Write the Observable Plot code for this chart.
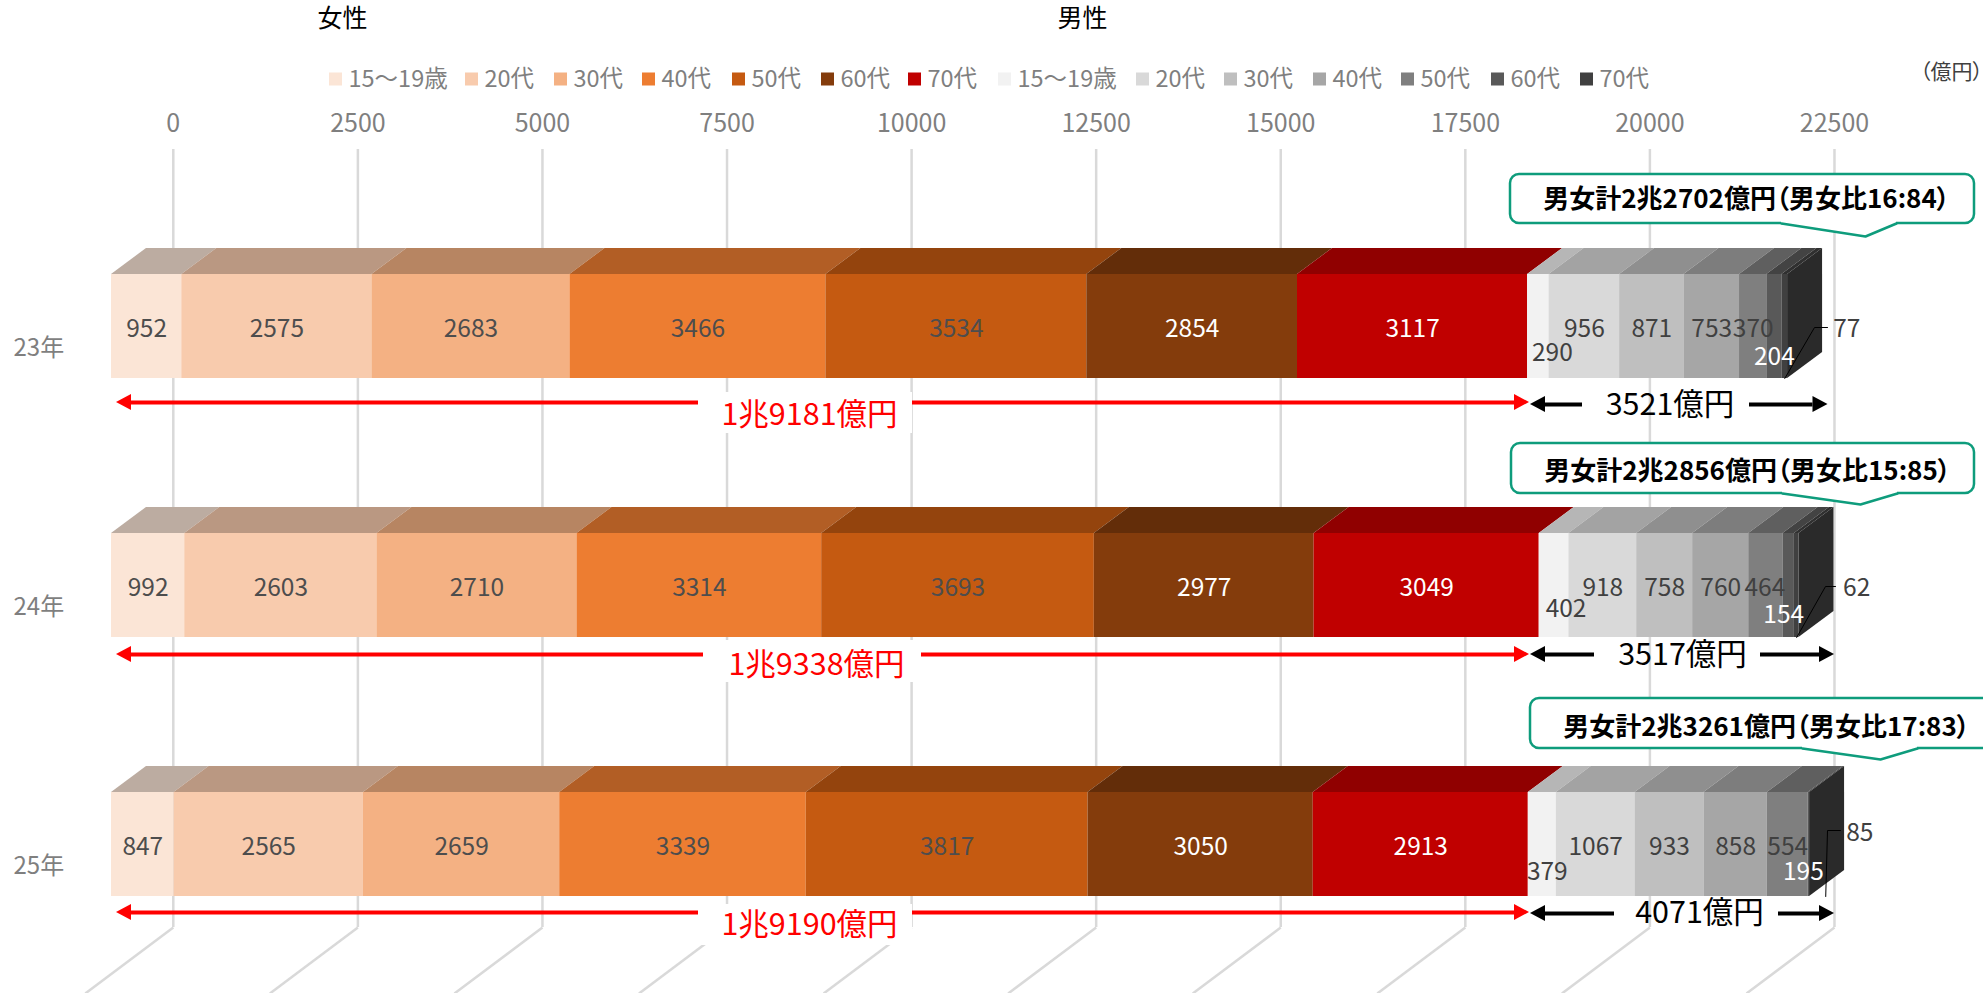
<!DOCTYPE html>
<html lang="ja">
<head>
<meta charset="utf-8">
<script src="https://cdn.jsdelivr.net/npm/d3@7"></script>
<script src="https://cdn.jsdelivr.net/npm/@observablehq/plot@0.6"></script>
<style>
html,body{margin:0;padding:0;background:#fff;}
svg{display:block;}
.palt, .palt text{font-feature-settings:"palt";}
</style>
</head>
<body>
<div id="chart"></div>
<script>
// ---------- data ----------
const years = ["23年", "24年", "25年"];
const ages = ["15〜19歳", "20代", "30代", "40代", "50代", "60代", "70代"];
const female23 = [952, 2575, 2683, 3466, 3534, 2854, 3117];
const female24 = [992, 2603, 2710, 3314, 3693, 2977, 3049];
const female25 = [847, 2565, 2659, 3339, 3817, 3050, 2913];
const male23 = [290, 956, 871, 753, 370, 204, 77];
const male24 = [402, 918, 758, 760, 464, 154, 62];
const male25 = [379, 1067, 933, 858, 554, 195, 85];
const femaleTotals = ["1兆9181億円", "1兆9338億円", "1兆9190億円"];
const maleTotals = ["3521億円", "3517億円", "4071億円"];
const calloutTexts = ["男女計2兆2702億円（男女比16:84）", "男女計2兆2856億円（男女比15:85）", "男女計2兆3261億円（男女比17:83）"];
const xTicks = [0, 2500, 5000, 7500, 10000, 12500, 15000, 17500, 20000, 22500];
const xMaxFront = 23000;

// ---------- styles ----------
const femaleColors = ["#FBE5D6", "#F8CBAD", "#F4B183", "#ED7D31", "#C55A11", "#843C0C", "#C00000"];
const maleColors = ["#F2F2F2", "#D9D9D9", "#BFBFBF", "#A6A6A6", "#7F7F7F", "#595959", "#404040"];
const sideColor = "#2A2A2A";
const teal = "#0E9C7C";
const grey = "#7F7F7F";
const font = '"Noto Sans CJK JP","Noto Sans",sans-serif';
const darken = c => { const r = d3.rgb(c); return d3.rgb(r.r * .75, r.g * .75, r.b * .75).formatHex(); };

// ---------- layout: helpers turn page pixels into scale units ----------
const W = 1983, H = 993, TOP = 149;
const K = 0.07383, X0 = 172.8;    // px per yen unit, pixel of value 0 on the back wall
const ROW0 = 326, ROWH = 259;     // pixel of first bar's centre, px per bar row
const X = px => (px - X0) / K;
const Y = px => (px - ROW0) / ROWH;
const DX = px => px / K;
const DY = px => px / ROWH;
const frontOffset = DX(111 - X0);
const depthX = DX(35), depthY = DY(26), halfBar = DY(52);
const front = v => v + frontOffset;

const femaleRows = [female23, female24, female25];
const maleRows = [male23, male24, male25];

// segment table
const segs = [];
years.forEach((year, i) => {
  let cum = 0;
  const push = (arr, colors, sex) => arr.forEach((v, a) => {
    segs.push({year, row: i, age: a, sex, value: v, a: cum, b: cum + v,
      ca: Math.min(cum, xMaxFront), cb: Math.min(cum + v, xMaxFront), color: colors[a]});
    cum += v;
  });
  push(femaleRows[i], femaleColors, "f");
  push(maleRows[i], maleColors, "m");
});
const visible = segs.filter(d => d.cb > d.ca);

// top faces as parallelograms
const topFaces = visible.flatMap((d, id) => [
  {id, x1: front(d.ca), x2: front(d.cb), y: d.row - halfBar, fill: darken(d.color)},
  {id, x1: front(d.ca) + depthX, x2: front(d.cb) + depthX, y: d.row - halfBar - depthY, fill: darken(d.color)}
]);
// right face
const barEnds = years.map((_, i) => d3.max(visible.filter(d => d.row === i), d => d.cb));
const sideFaces = barEnds.flatMap((e, i) => [
  {row: i, x: front(e), y1: i + halfBar, y2: i - halfBar},
  {row: i, x: front(e) + depthX, y1: i + halfBar - depthY, y2: i - halfBar - depthY}
]);

// data label offsets (px), male rows only
const maleDx = [[14,0,0,0,0,0,62],[12,0,0,0,-1,-5,60],[5,0,0,0,0,-12,34]];
const maleDy = [[24,0,0,0,0,28,0],[21,0,0,0,0,27,0],[25,0,0,0,0,25,-14]];
const labels = segs.map(d => {
  const m = d.sex === "m";
  return {
    text: String(d.value),
    x: front((d.a + d.b) / 2) + (m ? DX(maleDx[d.row][d.age]) : 0),
    y: d.row + DY(2.5) + (m ? DY(maleDy[d.row][d.age]) : 0),
    fill: (d.sex === "f" && d.age >= 5) || (m && d.age === 5) ? "#FFFFFF" : (m ? "#404040" : "#4D4D4D")
  };
});

// leader lines for the smallest male segment
const leaderElbowX = [1814, 1825, 1827], leaderEndX = [1827, 1835, 1840], leaderY = [327, 586, 830];
const leaders = years.flatMap((_, i) => {
  const d = segs.find(s => s.row === i && s.sex === "m" && s.age === 6);
  return [
    {row: i, x: front((d.a + d.b) / 2), y: i + halfBar},
    {row: i, x: X(leaderElbowX[i]), y: Y(leaderY[i])},
    {row: i, x: X(leaderEndX[i]), y: Y(leaderY[i])}
  ];
});

// arrows
const redY = [402, 654, 912], blackY = [404, 654, 913];
const redLeftTip = 116, redRightTip = 1529, blackLeftTip = 1530;
const blackLeftEnd = [1582, 1594, 1614], blackRightStart = [1749, 1760, 1778], blackRightTip = [1827.5, 1834, 1834];
const redGapX1 = [698, 703, 698], redGapX2 = [912, 921, 912], redGapY1 = [392, 640, 904], redGapY2 = [433, 682, 945];
const redTextX = [809, 816, 809], redTextY = [415, 665, 925];
const blackTextX = [1669.5, 1682, 1699], blackTextY = [405, 655, 913];
const idx = [0, 1, 2];
const HEAD = 15, HALF = 8;
const head = (id, tip, dir, py, color) => [
  {id, x: X(tip), y1: Y(py), y2: Y(py), color},
  {id, x: X(tip + dir * HEAD), y1: Y(py - HALF), y2: Y(py + HALF), color}
];
const heads = idx.flatMap(i => [
  ...head("rl" + i, redLeftTip, 1, redY[i], "#FF0000"),
  ...head("rr" + i, redRightTip, -1, redY[i], "#FF0000"),
  ...head("bl" + i, blackLeftTip, 1, blackY[i], "#000000"),
  ...head("br" + i, blackRightTip[i], -1, blackY[i], "#000000")
]);

// callouts
const boxX1 = [1510, 1511, 1530], boxX2 = [1974, 1974, 2010], boxY1 = [174, 443, 698], boxY2 = [223, 493, 748];
const tailX1 = [1781, 1782, 1802], tailX2 = [1865, 1860, 1880], tailX3 = [1896, 1897, 1917], tailY = [236, 504, 759];
const calloutTextX = [1746, 1747, 1766], calloutTextY = [199, 471, 727];
const tailLines = idx.flatMap(i => [
  {i, x: X(tailX1[i]), y: Y(boxY2[i])},
  {i, x: X(tailX2[i]), y: Y(tailY[i])},
  {i, x: X(tailX3[i]), y: Y(boxY2[i])}
]);

// legend
const legendTextX = [348, 484, 573, 661, 751, 840, 927, 1017, 1155, 1243, 1332, 1420, 1510, 1599];
const legendY = 79;
const legend = [...ages, ...ages].map((t, i) => ({
  text: t, px: legendTextX[i], color: (i < 7 ? femaleColors : maleColors)[i % 7]
}));
const sexTitles = [{t: "女性", px: 342}, {t: "男性", px: 1082}];

const plot = Plot.plot({
  width: W, height: H,
  marginLeft: 0, marginRight: 0, marginBottom: 0, marginTop: TOP,
  x: {domain: [X(0), X(W)], axis: null},
  y: {domain: [Y(H), Y(TOP)], axis: null},
  style: {fontFamily: font, background: "#fff", overflow: "hidden"},
  marks: [
    Plot.axisX({anchor: "top", ticks: xTicks, tickFormat: "d", tickSize: 0, tickPadding: 18, fontSize: 25, label: null, color: grey}),
    // back wall and floor gridlines
    Plot.ruleX(xTicks, {x: d => d, y1: Y(TOP), y2: Y(927), stroke: "#D9D9D9", strokeWidth: 2.5}),
    Plot.link(xTicks, {x1: d => d, y1: Y(927), x2: d => d + DX(-88), y2: Y(993), stroke: "#D9D9D9", strokeWidth: 2.5}),
    // 3-D bars
    Plot.area(topFaces, {x1: "x1", x2: "x2", y1: "y", y2: "y", z: "id", fill: "fill"}),
    Plot.area(sideFaces, {x1: "x", x2: "x", y1: "y1", y2: "y2", z: "row", fill: sideColor}),
    Plot.rect(visible, {x1: d => front(d.ca), x2: d => front(d.cb), y1: d => d.row - halfBar, y2: d => d.row + halfBar, fill: "color"}),
    // leaders and data labels
    Plot.line(leaders, {x: "x", y: "y", z: "row", stroke: "#000", strokeWidth: 1}),
    Plot.text(labels, {x: "x", y: "y", text: "text", fill: "fill", fontSize: 24.5}),
    // total arrows
    Plot.ruleY(idx, {y: i => Y(redY[i]), x1: X(redLeftTip + HEAD), x2: X(redRightTip - HEAD), stroke: "#FF0000", strokeWidth: 4}),
    Plot.rect(idx, {x1: i => X(redGapX1[i]), x2: i => X(redGapX2[i]), y1: i => Y(redGapY1[i]), y2: i => Y(redGapY2[i]), fill: "#fff"}),
    Plot.ruleY(idx, {y: i => Y(blackY[i]), x1: X(blackLeftTip + HEAD), x2: i => X(blackLeftEnd[i]), stroke: "#000", strokeWidth: 4}),
    Plot.ruleY(idx, {y: i => Y(blackY[i]), x1: i => X(blackRightStart[i]), x2: i => X(blackRightTip[i] - HEAD), stroke: "#000", strokeWidth: 4}),
    Plot.area(heads, {x1: "x", x2: "x", y1: "y1", y2: "y2", z: "id", fill: "color"}),
    Plot.text(idx, {x: i => X(redTextX[i]), y: i => Y(redTextY[i]), text: i => femaleTotals[i], fill: "#FF0000", fontSize: 30.5}),
    Plot.text(idx, {x: i => X(blackTextX[i]), y: i => Y(blackTextY[i]), text: i => maleTotals[i], fill: "#000", fontSize: 30.5}),
    // callouts
    Plot.rect(idx, {x1: i => X(boxX1[i]), x2: i => X(boxX2[i]), y1: i => Y(boxY1[i]), y2: i => Y(boxY2[i]), fill: "#fff", stroke: teal, strokeWidth: 2.5, rx: 9}),
    Plot.area(tailLines, {x1: "x", x2: "x", y1: "y", y2: d => Y(boxY2[d.i]) - DY(2), z: "i", fill: "#fff"}),
    Plot.line(tailLines, {x: "x", y: "y", z: "i", stroke: teal, strokeWidth: 2.5}),
    Plot.text(idx, {x: i => X(calloutTextX[i]), y: i => Y(calloutTextY[i]), text: i => calloutTexts[i], fill: "#000", fontSize: 26, fontWeight: 700, className: "palt"}),
    // year labels
    Plot.text(years, {frameAnchor: "left", dx: 13, y: (_, i) => i + DY(22), text: d => d, fill: grey, fontSize: 24, textAnchor: "start"}),
    // titles, legend and unit
    Plot.text(sexTitles, {x: d => X(d.px), y: Y(18), text: "t", fill: "#000", fontSize: 25}),
    Plot.text(legend, {x: d => X(d.px), y: Y(legendY), text: "text", fill: grey, fontSize: 23.5, textAnchor: "start"}),
    Plot.rect(legend, {x1: d => X(d.px - 19), x2: d => X(d.px - 6), y1: Y(legendY - 6.5), y2: Y(legendY + 6.5), fill: "color"}),
    Plot.text(["（億円）"], {x: X(1951), y: Y(72), text: d => d, fill: "#404040", fontSize: 21, className: "palt"})
  ]
});
document.getElementById("chart").appendChild(plot);
</script>
</body>
</html>
